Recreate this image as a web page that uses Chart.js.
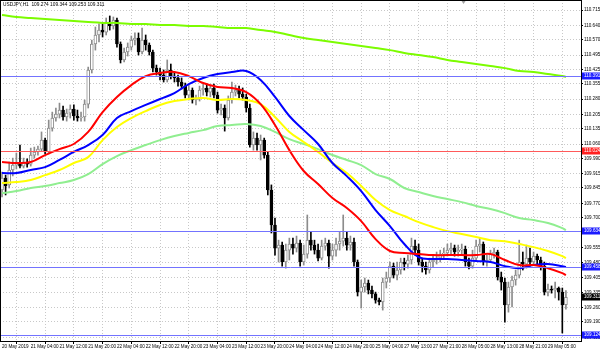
<!DOCTYPE html>
<html lang="en">
<head>
  <meta charset="UTF-8" />
  <title>USDJPY,H1</title>
  <script src="https://cdn.jsdelivr.net/npm/chart.js"></script>
  <style>
    * { margin: 0; padding: 0; }
    body { background: #fff; width: 600px; height: 352px; overflow: hidden; }
    canvas { display: block; }
  </style>
</head>
<body>
  <canvas id="chart" width="600" height="352"></canvas>

  <script>
    const symbol = 'USDJPY,H1';

    // one time label every 8 hourly bars
    const timeLabels = [
      '20 May 2019', '21 May 04:00', '21 May 12:00', '21 May 20:00', '22 May 04:00',
      '22 May 12:00', '22 May 20:00', '23 May 04:00', '23 May 12:00', '23 May 20:00',
      '24 May 04:00', '24 May 12:00', '24 May 20:00', '25 May 04:00', '27 May 13:00',
      '27 May 21:00', '28 May 05:00', '28 May 13:00', '28 May 21:00', '29 May 05:00'
    ];

    const opens = [
      109.835, 109.894, 109.860, 109.933, 109.957, 109.967, 109.952, 109.972, 109.962, 110.006,
      110.021, 110.035, 110.079, 110.021, 110.138, 110.187, 110.206, 110.226, 110.192, 110.211,
      110.231, 110.197, 110.187, 110.192, 110.255, 110.422, 110.549, 110.593, 110.617, 110.607,
      110.656, 110.637, 110.666, 110.549, 110.471, 110.510, 110.534, 110.568, 110.578, 110.510,
      110.568, 110.544, 110.510, 110.431, 110.412, 110.397, 110.373, 110.422, 110.392, 110.383,
      110.363, 110.343, 110.299, 110.324, 110.275, 110.285, 110.324, 110.334, 110.314, 110.334,
      110.299, 110.226, 110.236, 110.187, 110.275, 110.314, 110.324, 110.304, 110.290, 110.236,
      110.055, 110.089, 110.055, 110.079, 110.006, 109.835, 109.664, 109.551, 109.566, 109.483,
      109.541, 109.571, 109.551, 109.576, 109.483, 109.522, 109.590, 109.566, 109.541, 109.502,
      109.561, 109.576, 109.512, 109.541, 109.571, 109.585, 109.600, 109.566, 109.581, 109.483,
      109.336, 109.361, 109.380, 109.346, 109.327, 109.297, 109.288, 109.385, 109.405, 109.463,
      109.419, 109.444, 109.483, 109.473, 109.493, 109.561, 109.541, 109.483, 109.463, 109.444,
      109.483, 109.493, 109.502, 109.522, 109.527, 109.541, 109.551, 109.532, 109.541, 109.546,
      109.483, 109.463, 109.502, 109.561, 109.571, 109.483, 109.493, 109.522, 109.532, 109.410,
      109.385, 109.273, 109.361, 109.395, 109.419, 109.483, 109.473, 109.502, 109.483, 109.512,
      109.493, 109.463, 109.336, 109.351, 109.346, 109.356, 109.336, 109.274
    ];
    const highs = [
      109.923, 109.908, 109.972, 109.991, 110.016, 110.055, 109.991, 109.987, 110.040, 110.045,
      110.050, 110.119, 110.089, 110.177, 110.216, 110.236, 110.260, 110.246, 110.231, 110.251,
      110.251, 110.226, 110.216, 110.275, 110.436, 110.568, 110.632, 110.647, 110.647, 110.676,
      110.686, 110.681, 110.676, 110.559, 110.529, 110.554, 110.588, 110.603, 110.603, 110.627,
      110.593, 110.554, 110.519, 110.446, 110.431, 110.422, 110.471, 110.451, 110.412, 110.397,
      110.383, 110.358, 110.348, 110.334, 110.299, 110.343, 110.353, 110.353, 110.348, 110.353,
      110.314, 110.255, 110.251, 110.295, 110.363, 110.348, 110.343, 110.334, 110.304, 110.255,
      110.119, 110.114, 110.104, 110.089, 110.021, 109.860, 109.698, 109.590, 109.581, 109.571,
      109.600, 109.600, 109.610, 109.590, 109.566, 109.713, 109.629, 109.590, 109.571, 109.590,
      109.600, 109.590, 109.571, 109.600, 109.629, 109.713, 109.629, 109.610, 109.600, 109.493,
      109.395, 109.405, 109.395, 109.366, 109.336, 109.307, 109.405, 109.434, 109.483, 109.478,
      109.483, 109.502, 109.502, 109.517, 109.600, 109.590, 109.571, 109.502, 109.483, 109.502,
      109.517, 109.532, 109.541, 109.551, 109.571, 109.576, 109.566, 109.566, 109.571, 109.561,
      109.502, 109.541, 109.590, 109.600, 109.581, 109.517, 109.541, 109.551, 109.541, 109.434,
      109.405, 109.385, 109.414, 109.444, 109.590, 109.532, 109.566, 109.551, 109.532, 109.522,
      109.507, 109.483, 109.375, 109.366, 109.385, 109.361, 109.356, 109.344
    ];
    const lows = [
      109.801, 109.811, 109.845, 109.904, 109.938, 109.943, 109.943, 109.947, 109.952, 109.991,
      110.006, 110.025, 110.011, 110.011, 110.123, 110.172, 110.187, 110.177, 110.172, 110.187,
      110.177, 110.172, 110.172, 110.172, 110.236, 110.407, 110.519, 110.559, 110.583, 110.593,
      110.617, 110.622, 110.534, 110.456, 110.461, 110.490, 110.519, 110.544, 110.495, 110.500,
      110.519, 110.495, 110.412, 110.397, 110.373, 110.363, 110.363, 110.378, 110.363, 110.343,
      110.329, 110.285, 110.275, 110.260, 110.251, 110.270, 110.299, 110.295, 110.290, 110.285,
      110.211, 110.202, 110.123, 110.177, 110.260, 110.295, 110.285, 110.275, 110.216, 110.045,
      110.030, 110.030, 109.982, 109.991, 109.811, 109.625, 109.517, 109.483, 109.463, 109.453,
      109.493, 109.522, 109.532, 109.463, 109.468, 109.502, 109.541, 109.522, 109.488, 109.493,
      109.541, 109.453, 109.493, 109.512, 109.541, 109.561, 109.541, 109.541, 109.463, 109.317,
      109.258, 109.336, 109.327, 109.307, 109.282, 109.273, 109.248, 109.356, 109.385, 109.405,
      109.395, 109.424, 109.444, 109.453, 109.473, 109.517, 109.468, 109.434, 109.424, 109.429,
      109.458, 109.473, 109.483, 109.502, 109.512, 109.522, 109.512, 109.512, 109.522, 109.463,
      109.449, 109.453, 109.493, 109.532, 109.468, 109.463, 109.483, 109.502, 109.395, 109.346,
      109.189, 109.238, 109.263, 109.370, 109.405, 109.444, 109.453, 109.463, 109.473, 109.473,
      109.444, 109.322, 109.317, 109.331, 109.307, 109.297, 109.136, 109.253
    ];
    const closes = [
      109.894, 109.855, 109.933, 109.957, 109.967, 109.952, 109.972, 109.962, 110.006, 110.021,
      110.035, 110.079, 110.021, 110.138, 110.187, 110.206, 110.226, 110.192, 110.211, 110.231,
      110.197, 110.187, 110.192, 110.255, 110.422, 110.549, 110.593, 110.617, 110.607, 110.656,
      110.637, 110.666, 110.549, 110.471, 110.510, 110.534, 110.568, 110.578, 110.510, 110.568,
      110.544, 110.510, 110.431, 110.412, 110.397, 110.373, 110.422, 110.392, 110.383, 110.363,
      110.343, 110.299, 110.324, 110.275, 110.285, 110.324, 110.334, 110.314, 110.334, 110.299,
      110.226, 110.236, 110.187, 110.275, 110.314, 110.324, 110.304, 110.290, 110.236, 110.055,
      110.089, 110.055, 110.079, 110.006, 109.835, 109.664, 109.551, 109.566, 109.483, 109.541,
      109.571, 109.551, 109.576, 109.483, 109.522, 109.590, 109.566, 109.541, 109.502, 109.561,
      109.576, 109.512, 109.541, 109.571, 109.585, 109.600, 109.566, 109.581, 109.483, 109.336,
      109.361, 109.380, 109.346, 109.327, 109.297, 109.288, 109.385, 109.405, 109.463, 109.419,
      109.444, 109.483, 109.473, 109.493, 109.561, 109.541, 109.483, 109.463, 109.444, 109.483,
      109.493, 109.502, 109.522, 109.527, 109.541, 109.551, 109.532, 109.541, 109.546, 109.483,
      109.463, 109.502, 109.561, 109.571, 109.483, 109.493, 109.522, 109.532, 109.410, 109.385,
      109.273, 109.361, 109.395, 109.419, 109.483, 109.473, 109.502, 109.483, 109.512, 109.493,
      109.463, 109.336, 109.351, 109.346, 109.356, 109.336, 109.273, 109.311
    ];

    // moving averages, read every 4th bar
    const maBars = [
      0, 4, 8, 12, 16, 20, 24, 28, 32, 36, 40, 44, 48, 52, 56, 60, 64, 68, 72, 76,
      80, 84, 88, 92, 96, 100, 104, 108, 112, 116, 120, 124, 128, 132, 136, 140, 144, 148, 152, 156, 157
    ];
    const maRed = [
      109.972, 109.967, 109.972, 110.006, 110.035, 110.060, 110.119, 110.216, 110.290, 110.348,
      110.392, 110.407, 110.412, 110.392, 110.358, 110.339, 110.334, 110.314, 110.255, 110.153,
      110.030, 109.928, 109.864, 109.796, 109.747, 109.683, 109.595, 109.537, 109.527, 109.522,
      109.517, 109.517, 109.517, 109.517, 109.522, 109.493, 109.468, 109.468, 109.453, 109.429, 109.419
    ];
    const maBlue = [
      109.918, 109.918, 109.933, 109.947, 109.982, 110.021, 110.055, 110.104, 110.187, 110.221,
      110.251, 110.280, 110.309, 110.353, 110.383, 110.402, 110.412, 110.417, 110.373, 110.290,
      110.197, 110.128, 110.060, 109.967, 109.903, 109.830, 109.737, 109.659, 109.571, 109.507,
      109.498, 109.498, 109.493, 109.488, 109.483, 109.463, 109.453, 109.468, 109.473, 109.463, 109.458
    ];
    const maYellow = [
      109.869, 109.874, 109.884, 109.908, 109.933, 109.967, 109.996, 110.079, 110.143, 110.187,
      110.221, 110.251, 110.270, 110.280, 110.285, 110.275, 110.280, 110.275, 110.255, 110.192,
      110.119, 110.070, 110.021, 109.967, 109.918, 109.855, 109.786, 109.737, 109.708, 109.678,
      109.654, 109.634, 109.620, 109.605, 109.590, 109.585, 109.571, 109.556, 109.537, 109.512, 109.502
    ];
    const maGreen = [
      109.820, 109.830, 109.845, 109.855, 109.869, 109.884, 109.913, 109.962, 110.001, 110.030,
      110.055, 110.079, 110.099, 110.114, 110.128, 110.148, 110.153, 110.158, 110.148, 110.119,
      110.084, 110.060, 110.035, 110.006, 109.982, 109.957, 109.913, 109.889, 109.845, 109.825,
      109.806, 109.791, 109.776, 109.757, 109.742, 109.722, 109.698, 109.688, 109.674, 109.649, 109.639
    ];
    const maLime = [
      110.691, 110.681, 110.676, 110.671, 110.666, 110.661, 110.656, 110.652, 110.652, 110.647,
      110.647, 110.642, 110.642, 110.637, 110.637, 110.632, 110.627, 110.627, 110.617, 110.608,
      110.593, 110.578, 110.568, 110.559, 110.549, 110.539, 110.529, 110.519, 110.505, 110.495,
      110.485, 110.471, 110.461, 110.451, 110.441, 110.431, 110.417, 110.412, 110.402, 110.392, 110.388
    ];

    const priceTicks = [
      110.715, 110.640, 110.570, 110.495, 110.425, 110.355, 110.280, 110.205, 110.135, 110.060,
      109.990, 109.915, 109.845, 109.770, 109.700, 109.630, 109.555, 109.480, 109.405, 109.335,
      109.260, 109.190, 109.115
    ];
    const blueLevels = [110.391, 109.634, 109.458, 109.124];
    const redLevels = [110.024];

    const FONT = "'Liberation Sans', Arial, sans-serif";
    const SMALL = { family: FONT, size: 4.6 };
    const UP = '#8c8c8c';
    const DOWN = '#000000';
    const last = closes.length - 1;

    const upBar = i => closes[i] >= opens[i];
    const barIdx = closes.map((c, i) => i);

    const maLine = (vals, color) => ({
      type: 'line',
      data: maBars.map((b, k) => ({ x: b, y: vals[k] })),
      borderColor: color,
      borderWidth: 2,
      pointRadius: 0,
      tension: 0.4,
      order: 0
    });

    function tag(ctx, area, value, bg, fg) {
      const y = area.yScale.getPixelForValue(value);
      ctx.fillStyle = bg;
      ctx.fillRect(area.right + 1, Math.round(y) - 3.5, 18, 7);
      ctx.fillStyle = fg;
      ctx.font = '4.6px ' + FONT;
      ctx.textBaseline = 'middle';
      ctx.textAlign = 'left';
      ctx.fillText(value.toFixed(3), area.right + 3, Math.round(y));
    }

    const mtDecor = {
      id: 'mtDecor',
      afterDatasetsDraw(chart) {
        // horizontal level lines sit over the candles
        const { ctx, chartArea, scales } = chart;
        ctx.save();
        ctx.setLineDash([]);
        ctx.lineWidth = 1;
        const hline = (v, color) => {
          const y = Math.round(scales.y.getPixelForValue(v)) + 0.5;
          ctx.strokeStyle = color;
          ctx.beginPath();
          ctx.moveTo(chartArea.left, y);
          ctx.lineTo(chartArea.right, y);
          ctx.stroke();
        };
        blueLevels.forEach(v => hline(v, '#7373ff'));
        redLevels.forEach(v => hline(v, '#ff5a5a'));
        ctx.restore();
      },
      afterDraw(chart) {
        const { ctx, chartArea, scales } = chart;
        const area = { right: chartArea.right, yScale: scales.y };
        ctx.save();
        // frame
        ctx.strokeStyle = '#000';
        ctx.lineWidth = 1;
        ctx.strokeRect(chartArea.left + 0.5, chartArea.top + 0.5,
          chartArea.right - chartArea.left, chartArea.bottom - chartArea.top);
        // header
        ctx.fillStyle = '#000';
        ctx.font = '4.8px ' + FONT;
        ctx.textBaseline = 'middle';
        ctx.fillText(symbol + '  ' + [opens[last], highs[last], lows[last], closes[last]]
          .map(v => v.toFixed(3)).join(' '), chartArea.left + 3, chartArea.top + 5);
        // shift marker
        const sx = scales.x.getPixelForValue(128.5);
        ctx.fillStyle = '#a0a0a0';
        ctx.beginPath();
        ctx.moveTo(sx - 2, chartArea.top + 1);
        ctx.lineTo(sx + 2, chartArea.top + 1);
        ctx.lineTo(sx, chartArea.top + 4);
        ctx.fill();
        // price tags
        blueLevels.forEach(v => tag(ctx, area, v, '#1a1aff', '#fff'));
        redLevels.forEach(v => tag(ctx, area, v, '#ff2020', '#fff'));
        tag(ctx, area, closes[last], '#000', '#fff');
        ctx.restore();
      }
    };

    new Chart(document.getElementById('chart').getContext('2d'), {
      type: 'bar',
      data: {
        datasets: [
          maLine(maRed, '#ff0000'),
          maLine(maBlue, '#0000ff'),
          maLine(maYellow, '#ffff00'),
          maLine(maGreen, '#90ee90'),
          maLine(maLime, '#7cfc00'),
          {
            data: barIdx.map(i => ({ x: i, y: [opens[i], closes[i]] })),
            backgroundColor: barIdx.map(i => upBar(i) ? '#ffffff' : DOWN),
            borderColor: barIdx.map(i => upBar(i) ? UP : DOWN),
            borderWidth: 1,
            borderSkipped: false,
            barThickness: 3,
            minBarLength: 1,
            grouped: false,
            order: 1
          },
          {
            data: barIdx.map(i => ({ x: i, y: [lows[i], highs[i]] })),
            backgroundColor: barIdx.map(i => upBar(i) ? UP : DOWN),
            barThickness: 1,
            grouped: false,
            order: 2
          }
        ]
      },
      options: {
        responsive: false,
        animation: false,
        layout: { padding: 0 },
        plugins: { legend: { display: false }, tooltip: { enabled: false } },
        scales: {
          x: {
            type: 'linear',
            offset: false,
            min: -0.56,
            max: 161.2,
            afterBuildTicks: s => { s.ticks = timeLabels.map((t, k) => ({ value: k * 8 })); },
            afterFit: s => { s.height = 11; s.paddingLeft = 0; s.paddingRight = 0; },
            ticks: {
              autoSkip: false,
              maxRotation: 0,
              align: 'start',
              padding: 0,
              color: '#000',
              font: SMALL,
              callback: v => timeLabels[Math.round(v / 8)]
            },
            grid: { color: '#c8c8c8', tickColor: '#000', tickLength: 3 },
            border: { display: true, color: '#000', dash: [1, 2] }
          },
          y: {
            position: 'right',
            min: 109.097,
            max: 110.764,
            afterBuildTicks: s => { s.ticks = priceTicks.map(v => ({ value: v })); },
            afterFit: s => { s.width = 19; s.paddingTop = 0; s.paddingBottom = 0; },
            ticks: {
              padding: 1,
              color: '#000',
              font: SMALL,
              callback: v => v.toFixed(3)
            },
            grid: { color: '#c8c8c8', tickColor: '#000', tickLength: 2 },
            border: { display: true, color: '#000', dash: [1, 2] }
          }
        }
      },
      plugins: [mtDecor]
    });
  </script>
</body>
</html>
